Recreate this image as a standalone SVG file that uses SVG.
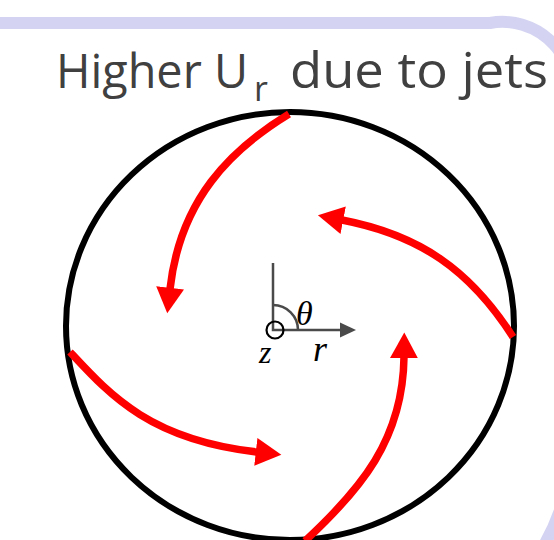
<svg xmlns="http://www.w3.org/2000/svg" width="554" height="540" viewBox="0 0 554 540">
<style>
.band{fill:none;stroke:#d4d4f2;stroke-width:12}
.jet{fill:none;stroke:#ff0000;stroke-width:7.5}
.ax{fill:none;stroke:#4a4a4a;stroke-width:2.5}
.title{font-family:"Open Sans","DejaVu Sans",sans-serif;fill:#404040}
.math{font-family:"Liberation Serif",serif;font-style:italic;fill:#000}
</style>
<defs>
<marker id="head" markerUnits="userSpaceOnUse" markerWidth="26" markerHeight="28" viewBox="0 0 22 24" refX="1" refY="12" orient="auto">
<path d="M0,0 L22,12 L0,24 Z" fill="#ff0000"/>
</marker>
</defs>
<g id="frame">
<path class="band" d="M-5,23 H490 A70,70 0 0 1 570,110"/>
<path class="band" d="M568,480 Q561,518 540,552"/>
</g>
<g id="title">
<text class="title" x="56" y="88" font-size="48" textLength="192" lengthAdjust="spacingAndGlyphs">Higher U</text>
<text class="title" x="254" y="101" font-size="34">r</text>
<text class="title" x="290" y="88" font-size="50" textLength="258" lengthAdjust="spacingAndGlyphs">due to jets</text>
</g>
<g id="vessel">
<ellipse cx="290" cy="326" rx="224" ry="214" fill="none" stroke="#000" stroke-width="6"/>
</g>
<g id="connectors">
<path class="jet" marker-end="url(#head)" d="M289,114 C230,150 180,200 170,289"/>
<path class="jet" marker-end="url(#head)" d="M513,337 C470,270 420,235 342,220"/>
<path class="jet" marker-end="url(#head)" d="M305,541 C360,490 403,440 404,357"/>
<path class="jet" marker-end="url(#head)" d="M70,352 C110,395 150,440 257,452"/>
</g>
<g id="axes">
<path class="ax" d="M273,263 V330 H341"/>
<path d="M340,322.5 L356,330 L340,337.5 Z" fill="#4a4a4a"/>
<path class="ax" d="M273,305 A25,25 0 0 1 298,330"/>
<circle cx="275" cy="330" r="8.5" fill="none" stroke="#000" stroke-width="2.2"/>
<text class="math" x="296" y="325" font-size="34">θ</text>
<text class="math" x="259" y="363" font-size="32">z</text>
<text class="math" x="313" y="361" font-size="36">r</text>
</g>
</svg>
